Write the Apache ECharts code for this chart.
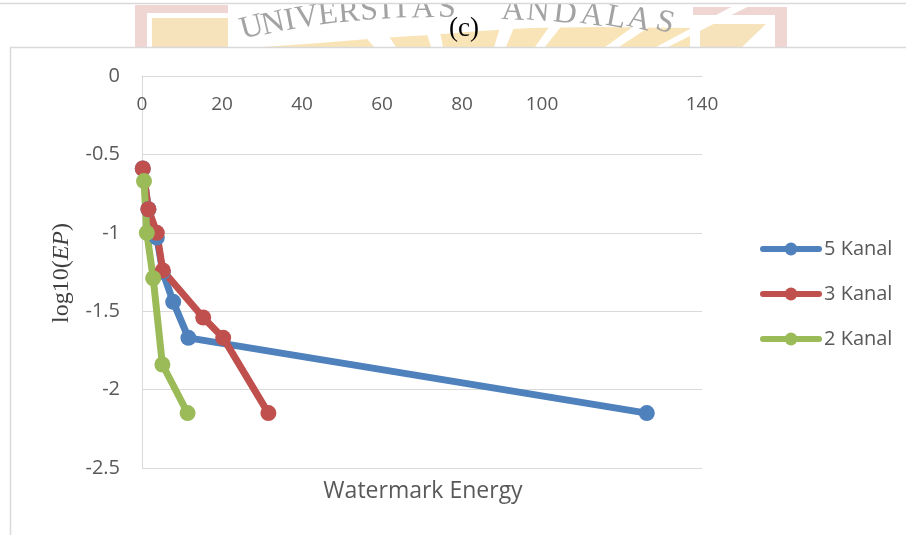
<!DOCTYPE html>
<html><head><meta charset="utf-8">
<script src="https://cdn.jsdelivr.net/npm/echarts@6/dist/echarts.min.js"></script>
<style>html,body{margin:0;padding:0;background:#fff}#c{width:906px;height:535px}</style>
</head><body><div id="c"></div><script>
// ---- data ----
const seriesNames = ['5 Kanal', '3 Kanal', '2 Kanal'];
const x5 = [0.2, 1.6, 3.7, 5.2, 7.8, 11.6, 126.2];
const y5 = [-0.59, -0.85, -1.03, -1.25, -1.44, -1.67, -2.15];
const x3 = [0.2, 1.6, 3.7, 5.2, 15.3, 20.3, 31.6];
const y3 = [-0.59, -0.85, -1.0, -1.24, -1.54, -1.67, -2.15];
const x2 = [0.5, 1.2, 2.8, 5.1, 11.4];
const y2 = [-0.67, -1.0, -1.29, -1.84, -2.15];
const xTickLabels = ['0', '20', '40', '60', '80', '100', '', '140'];
const xTitle = 'Watermark Energy';
const chartTitle = '(c)';
const watermarkText = 'UNIVERSITAS ANDALAS';

// ---- chart ----
const colors = ['#4f81bd', '#c0504d', '#9bbb59'];
const xs = [x5, x3, x2], ys = [y5, y3, y2];
const chart = echarts.init(document.getElementById('c'), null, {renderer: 'canvas'});

// watermark letter placements (decoration)
const letterPos = [
  [252,28,15],[273,24,13],[290,21,11],[307,18,9],[328,15,7],[349,13,5],[369,11,4],
  [386,10,3],[401,9,2],[423,9,1],[447,9,0],null,
  [513,11,-3],[538,12,-5],[565,14,-7],[592,16,-9],[616,18,-11],[639,20,-13],[665,23,-15]
];
const letters = [];
watermarkText.split('').forEach((ch, i) => {
  const p = letterPos[i];
  if (!p || ch === ' ') return;
  letters.push({type:'text', z:-8, x:p[0], y:p[1], rotation:p[2]*Math.PI/180,
    style:{text:ch, fill:'#a3a3a3', font:'32px "Liberation Serif"', textAlign:'center', textVerticalAlign:'middle'}});
});
const rayC = [463, 150];
function ray(xb, w) {
  const dx = xb - rayC[0], dy = 47 - rayC[1];
  const k = (0 - rayC[1]) / dy;
  const xt = rayC[0] + dx * k;
  return {type:'polygon', z:-9, shape:{points:[[xb - w/2, 47],[xb + w/2, 47],[xt + w*0.7, 0],[xt - w*0.7, 0]]}, style:{fill:'#fff'}};
}
const pink = '#efd6d3', tan = '#f6e2bb', sun = '#f8e4b6';

const graphics = [
  // watermark
  {type:'rect', z:-10, shape:{x:135,y:5,width:93,height:8}, style:{fill:pink}},
  {type:'rect', z:-10, shape:{x:135,y:5,width:12,height:42}, style:{fill:pink}},
  {type:'rect', z:-10, shape:{x:152,y:18,width:76,height:29}, style:{fill:tan}},
  {type:'rect', z:-10, shape:{x:693,y:7,width:94,height:8}, style:{fill:pink}},
  {type:'rect', z:-10, shape:{x:775,y:7,width:12,height:40}, style:{fill:pink}},
  {type:'polygon', z:-10, shape:{points:[[700,47],[700,24],[766,24],[742,47]]}, style:{fill:tan}},
  {type:'polygon', z:-10, shape:{points:[[262,47],[320,43],[380,38],[430,35],[480,31],[530,28],[600,27],[690,28],[690,47]]}, style:{fill:sun}},
  ray(385, 22), ray(437, 12), ray(500, 12), ray(540, 10), ray(612, 14), ray(662, 12),
  ...letters,
  // top frame of previous chart
  {type:'rect', z:-6, shape:{x:0,y:0,width:906,height:3}, style:{fill:'#fff'}},
  {type:'line', z:-6, shape:{x1:0,y1:3.5,x2:906,y2:3.5}, style:{stroke:'#d9d9d9', lineWidth:1.5}},
  // chart area
  {type:'rect', z:-5, shape:{x:10.5,y:47.5,width:900,height:500}, style:{fill:'#fff', stroke:'#d9d9d9', lineWidth:1.5}},
  // title
  {type:'text', z:10, x:464, y:29, style:{text:chartTitle, fill:'#000', font:'27px "Liberation Serif"', textAlign:'center', textVerticalAlign:'middle'}},
  // x title
  {type:'text', z:10, x:423, y:491, style:{text:xTitle, fill:'#595959', font:'23px "Open Sans"', textAlign:'center', textVerticalAlign:'middle'}},
  // y title
  {type:'text', z:10, x:62, y:273, rotation:Math.PI/2, style:{
    text:'{n|log10(}{i|EP}{n|)}', textAlign:'center', textVerticalAlign:'middle',
    rich:{n:{fontFamily:'Liberation Serif', fontSize:24, fill:'#404040', color:'#404040'},
          i:{fontFamily:'Liberation Serif', fontStyle:'italic', fontSize:24, fill:'#404040', color:'#404040'}}}}
];

const option = {
  animation: false,
  backgroundColor: '#fff',
  textStyle: {fontFamily: 'Open Sans'},
  color: colors,
  grid: {left: 142, top: 76, width: 560, height: 392, containLabel: false},
  xAxis: {
    type: 'value', position: 'top', min: 0, max: 140, interval: 20,
    axisLine: {show: true, onZero: false, lineStyle: {color: '#d9d9d9', width: 1}},
    axisTick: {show: false},
    axisLabel: {inside: true, margin: 19, color: '#595959', fontSize: 19,
      formatter: v => { const i = Math.round(v / 20); return xTickLabels[i] !== undefined ? xTickLabels[i] : ''; }},
    splitLine: {show: false}
  },
  yAxis: {
    type: 'value', min: -2.5, max: 0, interval: 0.5,
    axisLine: {show: true, lineStyle: {color: '#d9d9d9', width: 1}},
    axisTick: {show: false},
    axisLabel: {color: '#595959', fontSize: 20, margin: 22},
    splitLine: {show: true, lineStyle: {color: '#d9d9d9', width: 1}}
  },
  legend: {
    orient: 'vertical', left: 760, top: 239, padding: 0, itemWidth: 56, itemHeight: 16, itemGap: 25,
    data: seriesNames,
    lineStyle: {width: 6, cap: 'round'},
    textStyle: {color: '#595959', fontSize: 20, fontFamily: 'Open Sans'}
  },
  graphic: graphics,
  series: seriesNames.map((name, k) => ({
    name: name, type: 'line', symbol: 'circle', symbolSize: 16,
    lineStyle: {width: 7, color: colors[k], cap: 'round', join: 'round'}, itemStyle: {color: colors[k]},
    data: xs[k].map((v, i) => [v, ys[k][i]])
  }))
};
chart.setOption(option);
</script></body></html>
